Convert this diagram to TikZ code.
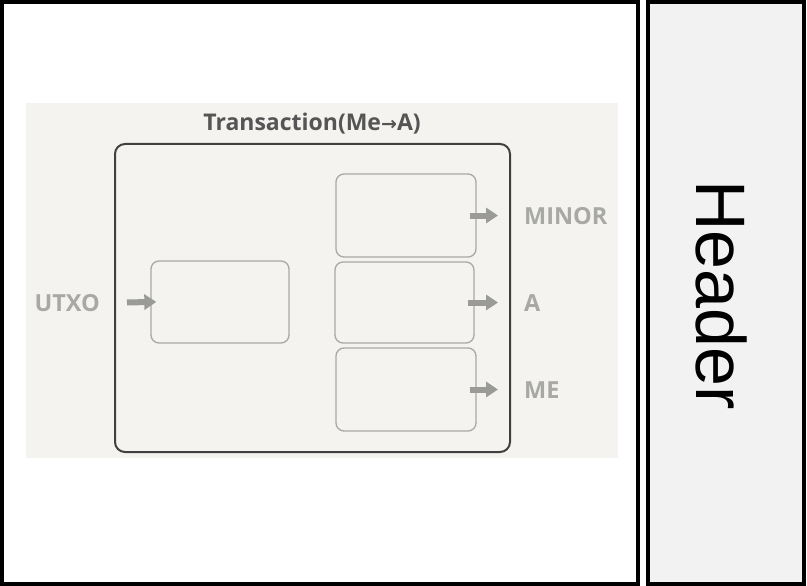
\documentclass[tikz,border=0pt]{standalone}
\usepackage{fontspec}
\usepackage{tikz}
\usepackage{xcolor}
\usetikzlibrary{arrows.meta}
\setmainfont{Open Sans}
\newfontfamily\headfont{Liberation Sans}
\newfontfamily\symfont{DejaVu Sans}

\definecolor{paper}{HTML}{F4F3EF}
\definecolor{panel}{HTML}{F2F2F2}
\definecolor{boxline}{HTML}{A8A8A6}
\definecolor{flowgray}{HTML}{9A9A96}
\definecolor{titlegray}{HTML}{555555}

\begin{document}
\begin{tikzpicture}[x=1pt, y=-1pt, >=stealth,
  slot/.style={draw=boxline, line width=1.3pt, rounded corners=8pt, minimum width=140pt, minimum height=83pt, inner sep=0pt},
  tag/.style={text=boxline, font=\bfseries\fontsize{23.5}{27}\selectfont, inner sep=0pt},
  flow/.style={draw=flowgray, line width=6pt, -{Triangle[length=12pt, width=15pt]}}]
\useasboundingbox (0,0) rectangle (807,586);
\draw[line width=4pt] (2,2) rectangle (638,584);
\draw[line width=4pt, fill=panel] (648,2) rectangle (804,584);
\node[rotate=-90, font=\headfont\fontsize{70}{80}\selectfont] (header) at (722,295) {Header};
\fill[paper] (26,103) rectangle (618,458);
\node[draw=black!75, line width=2pt, rounded corners=10pt, minimum width=395pt, minimum height=308pt] (tx) at (312.5,298) {};
\node[text=titlegray, font=\bfseries\fontsize{23}{26}\selectfont] (title) at (312,124) {Transaction(Me{\symfont\fontsize{19}{22}\selectfont →}A)};
\node[slot, minimum width=138pt, minimum height=82pt] (in) at (220,302) {};
\node[slot] (out1) at (406,215.5) {};
\node[slot, minimum width=139pt, minimum height=81pt] (out2) at (404.5,302.5) {};
\node[slot] (out3) at (406,389.5) {};
\node[tag, anchor=east] (utxo) at (100,303) {UTXO};
\node[tag, anchor=west] (minor) at (524,216) {MINOR};
\node[tag, anchor=west] (a) at (524,303) {A};
\node[tag, anchor=west] (me) at (524,390) {ME};
\draw[flow, shorten <=27pt, shorten >=-6pt] (utxo.east) -- (in.west);
\foreach \o/\t in {out1/minor, out2/a, out3/me} {
  \draw[flow, shorten <=-7pt, shorten >=26pt] (\o.east) -- (\t.west |- \o.east);
}
\end{tikzpicture}
\end{document}
